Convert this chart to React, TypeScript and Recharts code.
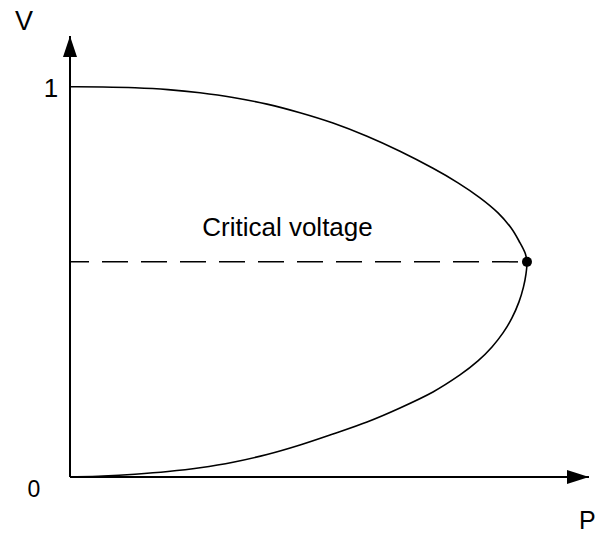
import React from 'react';
import { LineChart, Line, XAxis, YAxis, ReferenceLine, ReferenceDot } from 'recharts';

// Nose (P-V) curve: upper branch (V=1 -> nose) then lower branch (nose -> 0)
const P_VALUES = [
  0, 0.0636, 0.1252, 0.1888, 0.2505, 0.3141, 0.3796, 0.4432, 0.5067, 0.5723, 0.6358, 0.6994, 0.7476, 0.79, 0.8247, 0.8497,
  0.8671, 0.8767, 0.8805,
  0.8786, 0.8738, 0.8651, 0.8516, 0.8343, 0.8131, 0.7861, 0.7514, 0.6994, 0.6358, 0.5723, 0.5067, 0.4432, 0.3796, 0.3141,
  0.2505, 0.1888, 0.1252, 0.0636, 0,
];
const V_VALUES = [
  1.0, 0.9995, 0.9974, 0.9926, 0.9846, 0.9726, 0.9554, 0.9333, 0.9069, 0.8731, 0.8346, 0.791, 0.7538, 0.7154, 0.6769, 0.6385,
  0.6, 0.5744, 0.5513,
  0.5205, 0.4872, 0.4487, 0.4077, 0.3692, 0.3333, 0.2974, 0.2615, 0.2179, 0.1769, 0.141, 0.1103, 0.0821, 0.0577, 0.0379,
  0.0238, 0.0141, 0.0072, 0.0026, 0,
];

const CRITICAL_P = 0.8805;
const CRITICAL_V = 0.5513;

const X_DOMAIN = [0, 1];
const Y_DOMAIN = [0, 1.13];
const Y_TICK_VALUE = 1;
const Y_TICK_LABEL = '1';
const ORIGIN_LABEL = '0';
const X_AXIS_NAME = 'P';
const Y_AXIS_NAME = 'V';
const ANNOTATION = 'Critical voltage';

const FONT = '"Liberation Sans", Arial, sans-serif';

const data = P_VALUES.map((p, i) => ({ p, v: V_VALUES[i] }));

// Catmull-Rom smoothing (handles the non-monotonic nose of the curve)
const smoothCurve: any = (context: any) => {
  let pts: number[][] = [];
  return {
    areaStart() {},
    areaEnd() {},
    lineStart() {
      pts = [];
    },
    point(x: number, y: number) {
      pts.push([+x, +y]);
    },
    lineEnd() {
      if (!pts.length) return;
      context.moveTo(pts[0][0], pts[0][1]);
      for (let i = 0; i < pts.length - 1; i++) {
        const p0 = pts[i - 1] || pts[i];
        const p1 = pts[i];
        const p2 = pts[i + 1];
        const p3 = pts[i + 2] || p2;
        const c1x = p1[0] + (p2[0] - p0[0]) / 6;
        const c1y = p1[1] + (p2[1] - p0[1]) / 6;
        const c2x = p2[0] - (p3[0] - p1[0]) / 6;
        const c2y = p2[1] - (p3[1] - p1[1]) / 6;
        context.bezierCurveTo(c1x, c1y, c2x, c2y, p2[0], p2[1]);
      }
    },
  };
};

const txt = (x: number, y: number, s: string, size = 26, anchor: 'start' | 'middle' | 'end' = 'middle') => (
  <text x={x} y={y} fontSize={size} fontFamily={FONT} fill="#000" textAnchor={anchor}>
    {s}
  </text>
);

export default function App() {
  return (
    <div style={{ position: 'absolute', left: 0, top: 0, width: 600, height: 535, background: '#fff' }}>
      <LineChart width={600} height={535} data={data} margin={{ top: 36, right: 11, bottom: 0, left: 0 }}>
        <XAxis
          type="number"
          dataKey="p"
          domain={X_DOMAIN}
          allowDataOverflow
          height={58}
          tick={false}
          tickLine={false}
          axisLine={{ stroke: '#000', strokeWidth: 2 }}
        />
        <YAxis
          type="number"
          domain={Y_DOMAIN}
          allowDataOverflow
          width={70}
          tick={false}
          tickLine={false}
          axisLine={{ stroke: '#000', strokeWidth: 2 }}
        />
        <ReferenceLine
          segment={[
            { x: 0, y: CRITICAL_V },
            { x: CRITICAL_P, y: CRITICAL_V },
          ]}
          stroke="#000"
          strokeWidth={1.5}
          strokeDasharray="26 13"
          strokeDashoffset={7}
          label={(props: any) => {
            const vb = props.viewBox || {};
            const cx = (vb.x ?? 0) + (vb.width ?? 0) / 2 - 11;
            const cy = (vb.y ?? 0) - 26;
            return txt(cx, cy, ANNOTATION, 26);
          }}
        />
        <Line
          type={smoothCurve}
          dataKey="v"
          stroke="#000"
          strokeWidth={1.6}
          dot={false}
          activeDot={false}
          isAnimationActive={false}
        />
        <ReferenceDot x={CRITICAL_P} y={CRITICAL_V} r={5} fill="#000" stroke="#000" strokeWidth={0} />
        <ReferenceDot
          x={0}
          y={Y_DOMAIN[1]}
          shape={(p: any) => (
            <g>
              <path d={`M${p.cx},${p.cy} L${p.cx - 7},${p.cy + 21} L${p.cx + 7},${p.cy + 21} Z`} fill="#000" />
              {txt(p.cx - 46, p.cy - 6, Y_AXIS_NAME, 27)}
            </g>
          )}
        />
        <ReferenceDot
          x={X_DOMAIN[1]}
          y={0}
          shape={(p: any) => (
            <g>
              <path d={`M${p.cx},${p.cy} L${p.cx - 22},${p.cy - 7} L${p.cx - 22},${p.cy + 7} Z`} fill="#000" />
              {txt(p.cx - 10, p.cy + 52, X_AXIS_NAME, 25, 'start')}
            </g>
          )}
        />
        <ReferenceDot
          x={0}
          y={Y_TICK_VALUE}
          shape={(p: any) => txt(p.cx - 19, p.cy + 10, Y_TICK_LABEL, 26)}
        />
        <ReferenceDot
          x={0}
          y={0}
          shape={(p: any) => txt(p.cx - 36, p.cy + 20, ORIGIN_LABEL, 23)}
        />
      </LineChart>
    </div>
  );
}
